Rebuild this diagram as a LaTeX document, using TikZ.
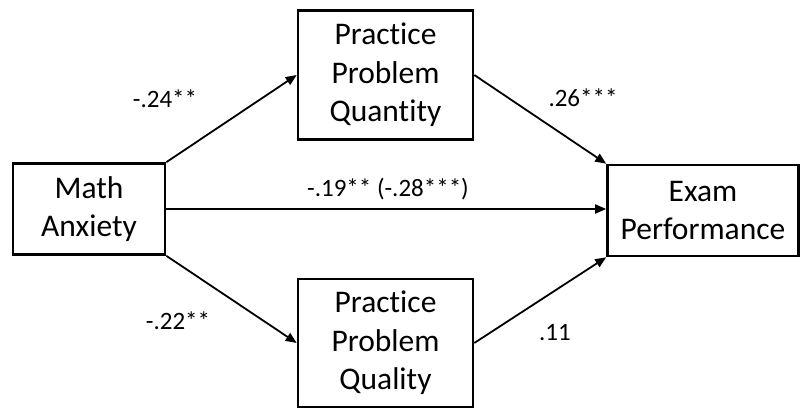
\documentclass[tikz,border=0pt]{standalone}
\usepackage{fontspec}
\setmainfont{Carlito}[Ligatures=NoCommon]
\usetikzlibrary{arrows.meta,positioning}
\tikzset{
mybox/.style={
  rectangle,
  line width=2.6pt,
  inner sep=0pt,
  align=center,
  draw=black,
  font=\fontsize{31.5}{38.5}\selectfont,
  }
}
\tikzset{
myline/.style={
  line width=1.8pt,
  -{Triangle[length=11pt,width=9pt]}
  }
}
\tikzset{
mylabel/.style={
  inner sep=0pt,
  font=\fontsize{25}{30}\selectfont,
  }
}

\begin{document}
\begin{tikzpicture}[x=1pt,y=-1pt]
    \useasboundingbox (0,0) rectangle (801,409);

    % boxes
    \node[mybox, minimum width=152pt, minimum height=91pt] (anx) at (89,209) {Math\\Anxiety};
    \node[mybox, minimum width=175pt, minimum height=129pt] (quan) at (385.5,75) {Practice\\Problem\\Quantity};
    \node[mybox, minimum width=175pt, minimum height=128pt] (qual) at (385.5,343) {Practice\\Problem\\Quality};
    \node[mybox, minimum width=191pt, minimum height=91pt] (exam) at (703,210.5) {Exam\\Performance};

    % path labels
    \node[mylabel] (l_aq) at (165,99) {-.24**};
    \node[mylabel] (l_qe) at (583,98) {.26***};
    \node[mylabel] (l_ae) at (388,189) {-.19** (-.28***)};
    \node[mylabel] (l_al) at (178,321) {-.22**};
    \node[mylabel] (l_le) at (555,333) {.11};

    % edges
    \draw[myline] (anx.north east) -- (quan.west);
    \draw[myline] (anx.south east) -- (qual.west);
    \draw[myline] (anx.east) -- (anx.east -| exam.west);
    \draw[myline] (quan.east) -- (exam.north west);
    \draw[myline] (qual.east) -- (exam.south west);
\end{tikzpicture}
\end{document}
